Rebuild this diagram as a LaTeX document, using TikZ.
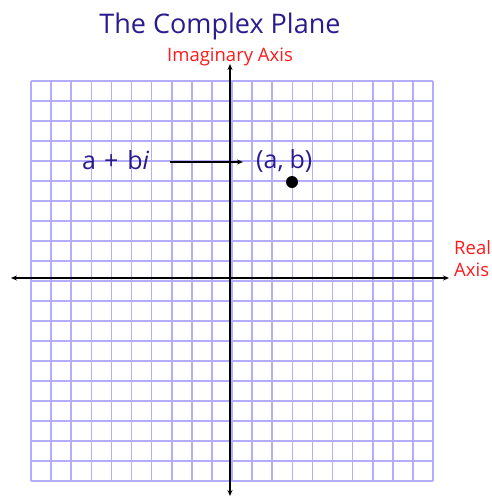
\documentclass[tikz,border=0pt]{standalone}
\usepackage{fontspec}
\setmainfont{Open Sans}
\usetikzlibrary{arrows.meta}
\definecolor{gridc}{HTML}{B4ACFF}
\definecolor{titlec}{HTML}{2A1C8E}
\definecolor{redc}{HTML}{FF1A1A}
\tikzset{
  gridline/.style={draw=gridc,line width=1.6pt},
  axisline/.style={draw=black,line width=2.2pt,{Stealth[length=6pt,width=5pt]}-{Stealth[length=6pt,width=5pt]}},
  redlabel/.style={text=redc,font=\fontsize{18.5}{22}\selectfont,inner sep=0pt},
  bluelabel/.style={text=titlec,font=\fontsize{25}{27}\selectfont,inner sep=0pt,anchor=base west}
}
\begin{document}
\begin{tikzpicture}[x=1pt,y=-1pt]
\useasboundingbox[fill=white] (0,0) rectangle (491,496);
% grid
\foreach \i in {0,...,20} {
  \draw[gridline] ({31+\i*20.1},81) -- ({31+\i*20.1},481);
  \draw[gridline] (31,{81+\i*20}) -- (433,{81+\i*20});
}
% axes
\coordinate (xl) at (11,278);
\coordinate (xr) at (449,278);
\coordinate (yt) at (230,64);
\coordinate (yb) at (230,496);
\draw[axisline] (xl) -- (xr);
\draw[axisline] (yb) -- (yt);
% labels
\node[text=titlec,font=\fontsize{27}{28}\selectfont,inner sep=0pt,anchor=base] (title) at (220,33) {The Complex Plane};
\node[redlabel,anchor=base] (imag) at (230,61) {Imaginary Axis};
\node[redlabel,align=left,anchor=base west] (real) at (454,276) {Real\\Axis};
\node[bluelabel] (z) at (82,169) {a\hspace{8pt}+\hspace{9pt}b\textit{i}};
\node[bluelabel] (ab) at (256,168) {(a,\hspace{6pt}b)};
\node[circle,fill=black,minimum size=12pt,inner sep=0pt] (pt) at (292,182) {};
\draw[line width=1.4pt,-{Stealth[length=6pt,width=5pt]}] (170,162) -- (243,162);
\end{tikzpicture}
\end{document}
